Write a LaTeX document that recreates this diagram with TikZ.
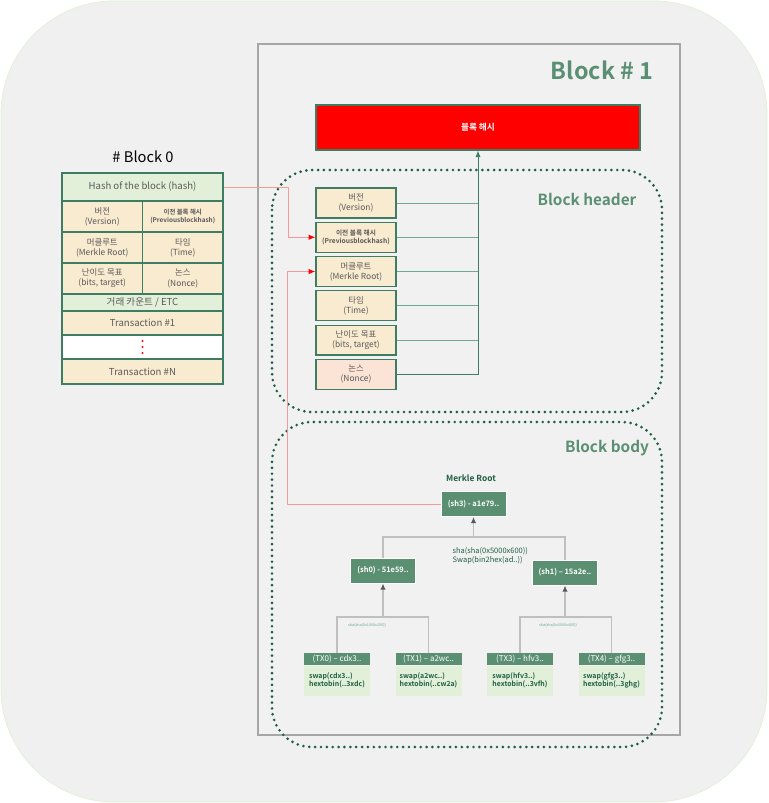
\documentclass[tikz,border=0pt]{standalone}
\usepackage{fontspec}
\setmainfont{Noto Sans CJK KR}[BoldFont={Noto Sans CJK KR Bold}]
\usepackage{tikz}
\usetikzlibrary{arrows.meta, positioning}

\definecolor{bgGray}{HTML}{F0F0F0}
\definecolor{frameGray}{HTML}{A6A6A6}
\definecolor{titleGreen}{HTML}{5A8F73}
\definecolor{dotGreen}{HTML}{1E5E44}
\definecolor{cellBeige}{HTML}{F9EBD0}
\definecolor{cellPink}{HTML}{FBE4D6}
\definecolor{cellBorder}{HTML}{3E7D63}
\definecolor{nodeGreen}{HTML}{5B8F72}
\definecolor{lightGreen}{HTML}{E2F0D9}
\definecolor{textGray}{HTML}{595959}
\definecolor{linkTeal}{HTML}{6FA898}
\definecolor{linkRed}{HTML}{F39A9A}
\definecolor{treeGray}{HTML}{BFBFBF}

\begin{document}
\begin{tikzpicture}[
    x=0.75pt, y=-0.75pt,
    node distance=2.4pt,
    field/.style={rectangle,draw=cellBorder,line width=0.9pt,fill=cellBeige,align=center,text=textGray,
        minimum width=60pt,minimum height=22.4pt,inner sep=1pt,font=\fontsize{6.3}{7.6}\selectfont},
    cell/.style={rectangle,draw=cellBorder,line width=0.8pt,fill=cellBeige,align=center,text=textGray,
        minimum width=60.4pt,minimum height=23.25pt,inner sep=1pt,font=\fontsize{6.3}{7.6}\selectfont},
    wide/.style={cell,minimum width=120.75pt},
    hnode/.style={rectangle,draw=white,line width=0.5pt,fill=nodeGreen,text=white,align=center,
        font=\bfseries\fontsize{5.6}{6.5}\selectfont,minimum width=49pt,minimum height=19pt,inner sep=1pt},
    txhead/.style={rectangle,fill=nodeGreen,text=white,font=\fontsize{6}{7}\selectfont,
        minimum width=49.5pt,minimum height=9pt,inner sep=0pt},
    txbody/.style={rectangle,fill=lightGreen,text=dotGreen,align=left,font=\bfseries\fontsize{5.2}{6.2}\selectfont,
        minimum width=49.5pt,minimum height=22.5pt,inner sep=0pt},
    zone/.style={draw=dotGreen,line width=2.2pt,dash pattern=on 0pt off 4.4pt,line cap=round,rounded corners=30pt},
    zonelabel/.style={text=titleGreen,font=\bfseries\fontsize{11.5}{13}\selectfont},
    hdrlink/.style={draw=linkTeal,line width=0.7pt},
    redlink/.style={draw=linkRed,line width=0.7pt,-{Latex[length=5pt,width=4pt,fill=red,color=red]}},
    treelink/.style={draw=treeGray,line width=1.1pt},
    treearrow/.style={treelink,-{Latex[length=4.5pt,width=4pt,color=textGray]}}
]
\useasboundingbox (0,0) rectangle (768,803);

% background and block 1 frame
\fill[white] (0,0) rectangle (768,803);
\filldraw[fill=bgGray,draw=lightGreen,line width=0.6pt,rounded corners=85pt] (1,1) rectangle (767,802);
\filldraw[fill=bgGray!96!white,draw=frameGray,line width=0.8pt] (258,44) rectangle (680,735);
\node[text=titleGreen,font=\bfseries\fontsize{17.5}{20}\selectfont,anchor=east] (title1) at (658,70) {Block \# 1};

% block hash
\node[rectangle,fill=red,draw=cellBorder,line width=0.8pt,minimum width=243pt,minimum height=33.75pt,
      text=white,font=\bfseries\fontsize{6.5}{8}\selectfont] (hash) at (478,127.5) {블록 해시};

% header zone
\draw[zone] (272,170) rectangle (662,412);
\node[zonelabel] (hdrlabel) at (587,199) {Block header};
\node[field] (fver) at (356,203) {버전\\(Version)};
\node[field,below=of fver,font=\bfseries\fontsize{5}{6.2}\selectfont] (fprev) {이전 블록 해시\\(Previousblockhash)};
\node[field,below=of fprev] (fmerkle) {머클루트\\(Merkle Root)};
\node[field,below=of fmerkle] (ftime) {타임\\(Time)};
\node[field,below=of ftime] (fbits) {난이도 목표\\(bits, target)};
\node[field,below=of fbits,fill=cellPink] (fnonce) {논스\\(Nonce)};

\draw[hdrlink] (fver.east) -- (fver.east -| hash.south);
\draw[hdrlink] (fprev.east) -- (fprev.east -| hash.south);
\draw[hdrlink] (fmerkle.east) -- (fmerkle.east -| hash.south);
\draw[hdrlink] (ftime.east) -- (ftime.east -| hash.south);
\draw[hdrlink] (fbits.east) -- (fbits.east -| hash.south);
\draw[hdrlink,draw=cellBorder,-{Latex[length=5pt,width=4pt]}] (fnonce.east) -| (hash.south);

% body zone
\draw[zone] (272,422) rectangle (662,747);
\node[zonelabel] (bodylabel) at (607,448) {Block body};
\node[text=dotGreen,font=\bfseries\fontsize{6.3}{7.5}\selectfont] (mrlabel) at (471,478) {Merkle Root};
\node[hnode] (sh3) at (473.5,504) {(sh3) - a1e79..};
\node[hnode] (sh0) at (383,570.5) {(sh0) - 51e59..};
\node[hnode] (sh1) at (565,572.5) {(sh1) – 15a2e..};
\node[text=dotGreen,align=left,font=\fontsize{5.6}{6.6}\selectfont,anchor=north west] (shanote) at (448,543)
    {sha(sha(0x5000x600))\\Swap(bin2hex(ad..))};

\node[txhead] (tx0) at (337,659) {(TX0) – cdx3..};
\node[txbody,below=0pt of tx0] (tx0b) {swap(cdx3..)\\hextobin(..3xdc)};
\node[txhead] (tx1) at (428.5,659) {(TX1) – a2wc..};
\node[txbody,below=0pt of tx1] (tx1b) {swap(a2wc..)\\hextobin(..cw2a)};
\node[txhead] (tx3) at (520,659) {(TX3) – hfv3..};
\node[txbody,below=0pt of tx3] (tx3b) {swap(hfv3..)\\hextobin(..3vfh)};
\node[txhead] (tx4) at (611.5,659) {(TX4) – gfg3..};
\node[txbody,below=0pt of tx4] (tx4b) {swap(gfg3..)\\hextobin(..3ghg)};

% merkle tree links
\coordinate (j3) at (473.5,537);
\coordinate (j0) at (383,617);
\coordinate (j1) at (565,617);
\draw[treelink] (sh0.north) |- (j3) -| (sh1.north);
\draw[treearrow] (j3) -- (sh3.south);
\draw[treelink] (tx0.north) |- (j0) -| (tx1.north);
\draw[treearrow] (j0) -- (sh0.south);
\draw[treelink] (tx3.north) |- (j1) -| (tx4.north);
\draw[treearrow] (j1) -- (sh1.south);
\node[text=linkTeal,font=\fontsize{2.8}{3}\selectfont] (note0) at (367,625) {sha(sha(0x1000x200))};
\node[text=linkTeal,font=\fontsize{2.8}{3}\selectfont] (note1) at (558,625) {sha(sha(0x3000x400))};

% block 0
\node[font=\fontsize{11}{13}\selectfont] (title0) at (143,157) {\# Block 0};
\node[wide,fill=lightGreen,minimum height=21pt,font=\fontsize{7.2}{8.5}\selectfont] (b0hash) at (142.5,187) {Hash of the block (hash)};
\node[cell] (b0ver) at (102.25,216.5) {버전\\(Version)};
\node[cell,font=\bfseries\fontsize{4.8}{6}\selectfont] (b0prev) at (182.75,216.5) {이전 블록 해시\\(Previousblockhash)};
\node[cell] (b0merkle) at (102.25,247.5) {머클루트\\(Merkle Root)};
\node[cell] (b0time) at (182.75,247.5) {타임\\(Time)};
\node[cell] (b0bits) at (102.25,278.5) {난이도 목표\\(bits, target)};
\node[cell] (b0nonce) at (182.75,278.5) {논스\\(Nonce)};
\node[wide,fill=lightGreen,minimum height=12.75pt,font=\fontsize{7.2}{8.5}\selectfont] (b0etc) at (142.5,302.5) {거래 카운트 / ETC};
\node[wide,minimum height=18pt,font=\fontsize{7.2}{8.5}\selectfont] (b0tx1) at (142.5,323) {Transaction \#1};
\node[wide,fill=white,minimum height=18pt] (b0dots) at (142.5,347) {};
\fill[red] ([yshift=4.5pt]b0dots.center) circle (0.9pt);
\fill[red] (b0dots.center) circle (0.9pt);
\fill[red] ([yshift=-4.5pt]b0dots.center) circle (0.9pt);
\node[wide,minimum height=18.75pt,font=\fontsize{7.2}{8.5}\selectfont] (b0txn) at (142.5,371.5) {Transaction \#N};

% links to block 1 header
\coordinate (bendA) at (288,0);
\coordinate (bendB) at (287,0);
\draw[redlink] (b0hash.east) -| (bendA |- fprev.west) -- (fprev.west);
\draw[redlink] (sh3.west) -| (bendB |- fmerkle.west) -- (fmerkle.west);

\end{tikzpicture}
\end{document}
